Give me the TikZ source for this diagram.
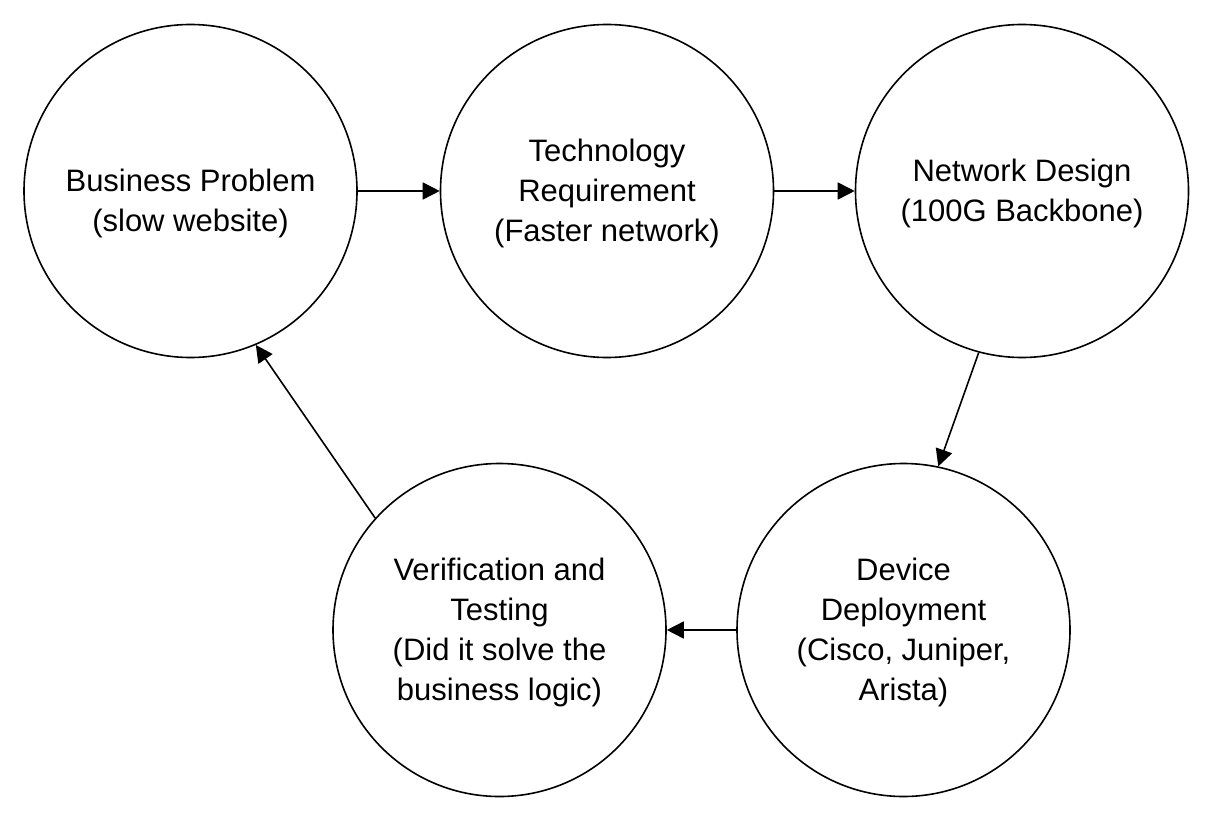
\documentclass[tikz,border=0pt]{standalone}
\usepackage{fontspec}
\setmainfont{Liberation Sans}
\usetikzlibrary{arrows.meta}
\begin{document}
\begin{tikzpicture}[x=1pt,y=-1pt,
  stage/.style={circle,draw,line width=1.6pt,minimum size=333pt,inner sep=0pt},
  lbl/.style={align=center,font=\fontsize{31}{40}\selectfont,inner sep=0pt},
  flow/.style={line width=1.6pt,-{Triangle[length=17pt,width=17pt]}}]
\useasboundingbox[fill=white] (0,0) rectangle (1215,821);
\node[stage] (bp) at (190.5,191) {};
\node[lbl] (bpt) at (190.5,203) {Business Problem\\(slow website)};
\node[stage] (tr) at (607,191) {};
\node[lbl] (trt) at (607,193) {Technology\\Requirement\\(Faster network)};
\node[stage] (nd) at (1022,191) {};
\node[lbl] (ndt) at (1022,193) {Network Design\\(100G Backbone)};
\node[stage] (dd) at (903.5,630) {};
\node[lbl] (ddt) at (903.5,632) {Device\\Deployment\\(Cisco, Juniper,\\Arista)};
\node[stage] (vt) at (499.5,630) {};
\node[lbl] (vtt) at (499.5,632) {Verification and\\Testing\\(Did it solve the\\business logic)};
\draw[flow] (bp.east) -- (tr.west);
\draw[flow] (tr.east) -- (nd.west);
\draw[flow] (nd.-105.5) -- (dd.78.6);
\draw[flow] (dd.west) -- (vt.east);
\draw[flow] (vt.138) -- (bp.-67.3);
\end{tikzpicture}
\end{document}
